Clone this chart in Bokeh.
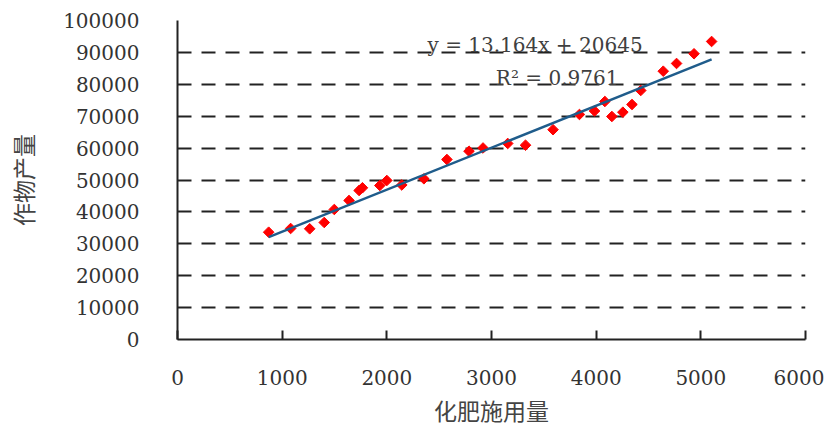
from bokeh.plotting import figure
from bokeh.models import Range1d, FixedTicker, NumeralTickFormatter, Label, ColumnDataSource
from bokeh.embed import file_html
from bokeh.resources import INLINE
import numpy as np

# fertilizer use (x) and crop yield (y)
fertilizer = [871, 1081, 1263, 1402, 1498, 1639, 1735, 1767, 1933, 2000,
              2143, 2354, 2574, 2785, 2919, 3155, 3325, 3588, 3840, 3984,
              4083, 4150, 4255, 4342, 4426, 4641, 4768, 4935, 5103]
crop_yield = [33640, 34800, 34700, 36680, 40760, 43580, 46710, 47560, 48280, 49850,
              48440, 50380, 56430, 59030, 60040, 61450, 60910, 65770, 70540, 71630,
              74610, 69910, 71260, 73670, 78060, 84110, 86530, 89570, 93420]

# linear trend line coefficients (as printed on the chart)
slope = 13.164
intercept = 20645
r_squared = 0.9761

x_ticks = [0, 1000, 2000, 3000, 4000, 5000, 6000]
y_ticks = [0, 10000, 20000, 30000, 40000, 50000, 60000, 70000, 80000, 90000, 100000]

x_title = "化肥施用量"
y_title = "作物产量"

p = figure(width=824, height=430, output_backend="svg", toolbar_location=None,
           x_range=Range1d(0, 6000), y_range=Range1d(0, 100000),
           min_border_left=177, min_border_right=19, min_border_top=20, min_border_bottom=91)
p.outline_line_color = None
p.background_fill_color = "white"

# grids
p.xgrid.grid_line_color = None
p.ygrid.ticker = FixedTicker(ticks=y_ticks[1:])
p.ygrid.grid_line_color = "#222222"
p.ygrid.grid_line_width = 2
p.ygrid.grid_line_dash = "14 10"

# axes
p.xaxis.ticker = FixedTicker(ticks=x_ticks)
p.yaxis.ticker = FixedTicker(ticks=y_ticks)
for ax in (p.xaxis, p.yaxis):
    ax.formatter = NumeralTickFormatter(format="0")
    ax.axis_line_color = "#222222"
    ax.axis_line_width = 2
    ax.major_tick_line_color = "#222222"
    ax.major_tick_line_width = 2
    ax.minor_tick_line_color = None
    ax.major_tick_out = 0
    ax.major_label_text_font = "DejaVu Serif"
    ax.major_label_text_font_size = "20px"
    ax.major_label_text_color = "#333333"
    ax.axis_label_text_font = "Noto Sans CJK SC"
    ax.axis_label_text_font_size = "23px"
    ax.axis_label_text_font_style = "normal"
    ax.axis_label_text_color = "#444444"
p.xaxis.major_tick_in = 9
p.yaxis.major_tick_in = 0
p.xaxis.major_label_standoff = 30
p.yaxis.major_label_standoff = 38
p.xaxis.axis_label = x_title
p.yaxis.axis_label = y_title
p.xaxis.axis_label_standoff = 5
p.yaxis.axis_label_standoff = 20

# data points
src = ColumnDataSource(dict(x=fertilizer, y=crop_yield))
p.scatter("x", "y", source=src, marker="square", angle=np.pi / 4, size=7.5,
          fill_color="#FF0000", line_color="#FF0000")

# trend line
tx = [min(fertilizer), max(fertilizer)]
ty = [slope * v + intercept for v in tx]
p.line(tx, ty, line_color="#1F5C8B", line_width=2.5)

# equation labels
p.add_layout(Label(x=3416, y=92170, text=f"y = {slope}x + {intercept}",
                   text_align="center", text_baseline="middle",
                   text_font="DejaVu Serif", text_font_size="20px", text_color="#404040"))
p.add_layout(Label(x=3627, y=81820, text=f"R² = {r_squared}",
                   text_align="center", text_baseline="middle",
                   text_font="DejaVu Serif", text_font_size="20px", text_color="#404040"))

open("out.html", "w").write(file_html(p, INLINE))
